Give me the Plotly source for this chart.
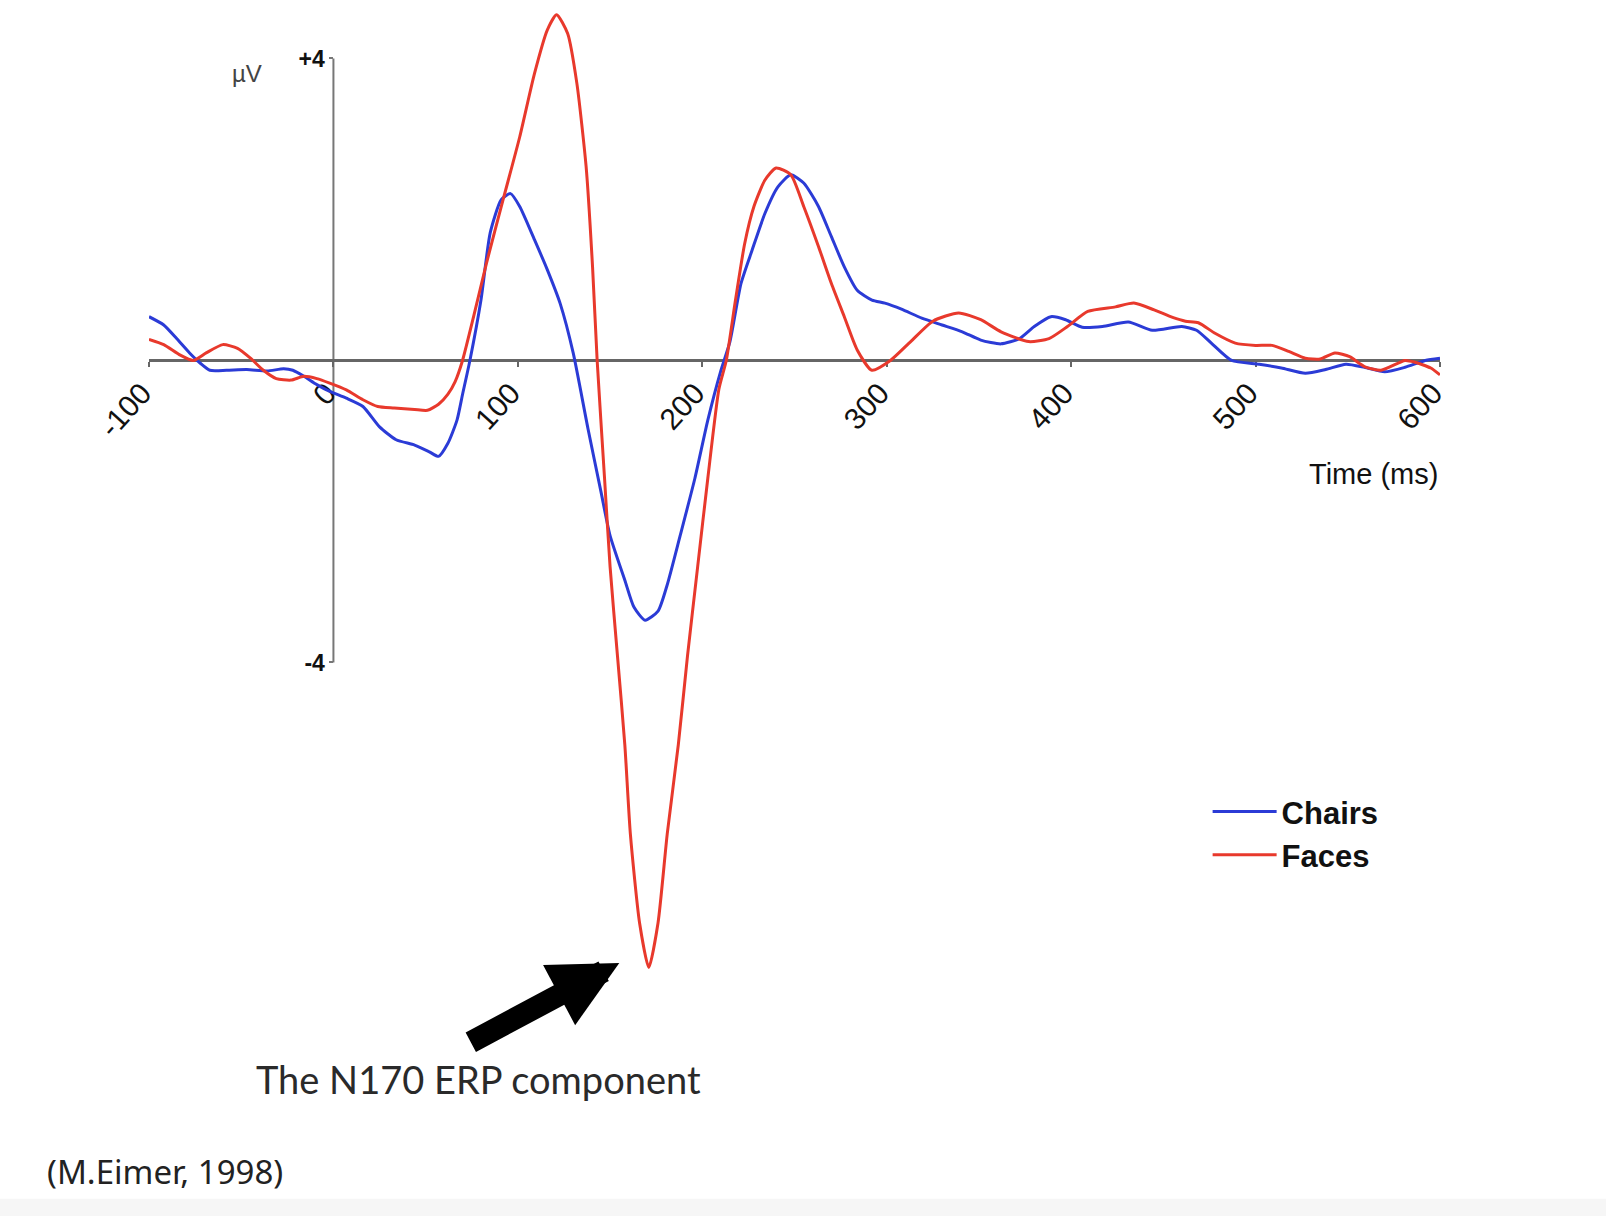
import plotly.graph_objects as go

# ---- data ----
chairs_t = [-100, -92, -85, -78, -72, -67, -58, -47, -36, -27, -22, -16, -9, -2, 7, 16, 25, 34, 44, 52, 57,
            62, 67, 70, 74, 80, 85, 91, 96, 101, 109, 116, 123, 130, 138, 145, 150, 158, 163, 169, 176,
            181, 188, 196, 203, 210, 215, 221, 227, 234, 241, 248, 255, 263, 270, 277, 284, 292, 299,
            308, 319, 330, 341, 351, 362, 372, 380, 389, 397, 406, 417, 431, 444, 460, 468, 476, 487,
            502, 514, 527, 538, 549, 559, 570, 581, 592, 600]
chairs_v = [0.58, 0.47, 0.29, 0.10, -0.04, -0.13, -0.13, -0.12, -0.14, -0.11, -0.13, -0.21, -0.32, -0.41,
            -0.50, -0.61, -0.88, -1.05, -1.12, -1.21, -1.27, -1.10, -0.79, -0.45, 0.0, 0.80, 1.69, 2.13,
            2.21, 2.04, 1.60, 1.20, 0.75, 0.10, -0.90, -1.73, -2.32, -2.91, -3.27, -3.44, -3.32, -2.97,
            -2.32, -1.56, -0.79, -0.14, 0.25, 1.02, 1.46, 1.95, 2.30, 2.46, 2.35, 2.04, 1.64, 1.24, 0.93,
            0.80, 0.76, 0.68, 0.56, 0.47, 0.38, 0.27, 0.22, 0.29, 0.45, 0.58, 0.54, 0.44, 0.45, 0.51,
            0.40, 0.45, 0.40, 0.23, 0.0, -0.05, -0.10, -0.17, -0.12, -0.05, -0.09, -0.15, -0.09, 0.0, 0.03]

faces_t = [-100, -92, -83, -76, -69, -60, -52, -45, -38, -31, -23, -16, -9, -2, 7, 16, 24, 33, 44, 51,
           57, 62, 66, 70, 76, 83, 92, 101, 109, 116, 121, 127, 132, 137, 140.5, 143, 147, 150, 154, 158,
           161, 166, 171, 176, 181, 187, 192, 197.5, 203, 209, 213, 218, 223, 228, 234, 240, 248, 255,
           263, 270, 277, 284, 292, 302, 313, 325, 339, 351, 362, 377, 388, 398, 409, 424, 434, 445,
           455, 462, 469, 478, 489, 500, 509, 518, 527, 535, 543, 551, 559, 568, 581, 586, 595, 600]
faces_v = [0.28, 0.21, 0.07, 0.0, 0.10, 0.21, 0.16, 0.03, -0.13, -0.24, -0.26, -0.21, -0.24, -0.30, -0.39,
           -0.52, -0.61, -0.63, -0.65, -0.66, -0.58, -0.45, -0.28, 0.0, 0.58, 1.29, 2.13, 2.96, 3.80,
           4.38, 4.58, 4.33, 3.67, 2.57, 1.24, 0.0, -1.56, -2.73, -3.91, -5.09, -6.27, -7.45, -8.04,
           -7.45, -6.27, -5.09, -3.91, -2.73, -1.56, -0.38, 0.0, 0.80, 1.55, 2.04, 2.39, 2.55, 2.46,
           2.04, 1.51, 1.02, 0.58, 0.14, -0.13, 0.0, 0.25, 0.52, 0.63, 0.54, 0.38, 0.25, 0.29, 0.45,
           0.65, 0.71, 0.76, 0.67, 0.57, 0.52, 0.50, 0.36, 0.23, 0.20, 0.20, 0.12, 0.03, 0.02, 0.10,
           0.05, -0.08, -0.13, 0.0, -0.02, -0.10, -0.19]

x_ticks = [-100, 0, 100, 200, 300, 400, 500, 600]
x_tick_labels = ["-100", "0", "100", "200", "300", "400", "500", "600"]
y_ticks = [-4, 4]
y_tick_labels = ["-4", "+4"]

series_names = ["Chairs", "Faces"]
series_colors = ["#2b3bd6", "#e8392c"]

X_RANGE = [-100, 600]
Y_RANGE = [-9.795, 4.748]

fig = go.Figure()
for name, t, v, c in [(series_names[0], chairs_t, chairs_v, series_colors[0]),
                      (series_names[1], faces_t, faces_v, series_colors[1])]:
    fig.add_trace(go.Scatter(x=t, y=v, mode="lines", name=name,
                             line=dict(color=c, width=3, shape="spline", smoothing=0.6)))

x_axis_pos = (0 - Y_RANGE[0]) / (Y_RANGE[1] - Y_RANGE[0])
y_axis_pos = (0 - X_RANGE[0]) / (X_RANGE[1] - X_RANGE[0])

fig.update_layout(
    width=1606, height=1216,
    margin=dict(l=149, r=166, t=2, b=116),
    paper_bgcolor="white", plot_bgcolor="white",
    font=dict(family="Liberation Sans, Arial, sans-serif", color="#222"),
    xaxis=dict(range=X_RANGE, domain=[0, 1], anchor="free", position=x_axis_pos,
               showgrid=False, zeroline=False, showline=True, linecolor="#666", linewidth=3,
               tickmode="array", tickvals=x_ticks, ticktext=x_tick_labels, tickangle=-48,
               ticks="outside", ticklen=5, tickwidth=2, tickcolor="#666",
               ticklabelshift=-7, ticklabelstandoff=-4,
               tickfont=dict(size=30, color="#111"), layer="below traces"),
    yaxis=dict(range=Y_RANGE, domain=[0, 1], anchor="free", position=y_axis_pos,
               showgrid=False, zeroline=False, showline=False,
               tickmode="array", tickvals=y_ticks, ticktext=y_tick_labels,
               ticks="outside", ticklen=4, tickwidth=2, tickcolor="#777",
               tickfont=dict(size=23, color="#111", weight="bold"), layer="below traces"),
    legend=dict(x=0.82, y=0.287, xanchor="left", yanchor="top",
                bgcolor="rgba(0,0,0,0)", font=dict(size=31, color="#111", weight="bold"),
                itemwidth=64, tracegroupgap=0),
    showlegend=True,
)

# y axis line limited to the tick range
fig.add_shape(type="line", xref="x", yref="y", x0=0, x1=0, y0=y_ticks[0], y1=y_ticks[-1],
              line=dict(color="#777", width=2), layer="below")

# bottom slide strip
fig.add_shape(type="rect", xref="paper", yref="paper", x0=-0.12, x1=1.13, y0=-0.106, y1=-0.09,
              fillcolor="#f6f6f6", line=dict(width=0), layer="below")

fig.add_annotation(x=-47, y=3.8, xref="x", yref="y", text="µV", showarrow=False,
                   font=dict(size=24, color="#444"))
fig.add_annotation(x=600, y=-1.5, xref="x", yref="y", text="Time (ms)", showarrow=False,
                   xanchor="right", font=dict(size=29, color="#111"))

# arrow pointing to the N170 trough
fig.add_annotation(x=155, y=-7.98, xref="x", yref="y", text="", showarrow=True,
                   ax=-150, ay=80, arrowhead=2, arrowsize=0.62, arrowwidth=22, arrowcolor="#000")
fig.add_annotation(x=0.2556, y=0.019, xref="paper", yref="paper", text="The N170 ERP component",
                   showarrow=False, xanchor="center", yanchor="middle",
                   font=dict(family="Lato, sans-serif", size=38, color="#2a2a2a"))
fig.add_annotation(x=-0.0806, y=-0.0647, xref="paper", yref="paper", text="(M.Eimer, 1998)",
                   showarrow=False, xanchor="left", yanchor="middle",
                   font=dict(family="Noto Sans, sans-serif", size=33, color="#222"))

fig.write_html("out.html", config={"displayModeBar": False},
               post_script="document.body.style.margin='0';document.body.style.overflow='hidden';")
